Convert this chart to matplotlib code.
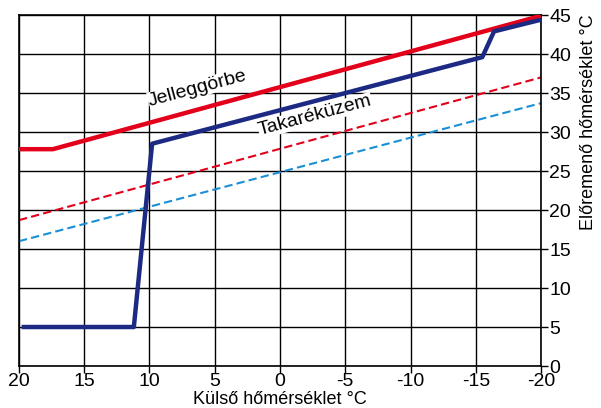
import matplotlib
matplotlib.use("Agg")
import matplotlib.pyplot as plt

plt.rcParams["font.family"] = ["Liberation Sans", "DejaVu Sans"]

# outdoor temperature (x) vs. flow temperature (y)
curve_x = [20, 17.4, -20]
curve_y = [27.8, 27.8, 44.9]

eco_x = [19.8, 11.2, 9.8, -15.5, -16.4, -20]
eco_y = [5.0, 5.0, 28.5, 39.6, 42.9, 44.4]

red_dot_x = [20, -20]
red_dot_y = [18.7, 37.0]

blue_dot_x = [20, -20]
blue_dot_y = [16.0, 33.7]

xticks = [20, 15, 10, 5, 0, -5, -10, -15, -20]
yticks = [0, 5, 10, 15, 20, 25, 30, 35, 40, 45]

fig = plt.figure(figsize=(6.01, 4.08), dpi=100)
ax = fig.add_axes([0.0316, 0.1029, 0.8686, 0.8603])

ax.plot(curve_x, curve_y, color="#e3001b", linewidth=3.2, solid_capstyle="butt", zorder=3)
ax.plot(eco_x, eco_y, color="#1c2a84", linewidth=3.2, solid_capstyle="butt", zorder=3)
ax.plot(red_dot_x, red_dot_y, color="#e3001b", linewidth=1.5, linestyle=(0, (4, 2)), zorder=2)
ax.plot(blue_dot_x, blue_dot_y, color="#1a8fd6", linewidth=1.5, linestyle=(0, (4, 2)), zorder=2)

ax.set_xlim(20, -20)
ax.set_ylim(0, 45)
ax.set_xticks(xticks)
ax.set_yticks(yticks)
ax.set_xticklabels([str(t) for t in xticks])
ax.yaxis.tick_right()
ax.tick_params(axis="both", labelsize=14, length=5, width=1, color="black", pad=1)
ax.tick_params(axis="x", pad=0)
ax.grid(True, color="black", linewidth=1)
for s in ax.spines.values():
    s.set_linewidth(1.2)

fig.text(0.466, 0.022, "Külső hőmérséklet °C", fontsize=13, ha="center", va="center")
fig.text(0.980, 0.70, "Előremenő hőmérséklet °C", fontsize=13, rotation=90,
         ha="center", va="center")

ax.text(6.3, 35.6, "Jelleggörbe", fontsize=14, rotation=15, ha="center", va="center",
        bbox=dict(facecolor="white", edgecolor="none", pad=0.3), zorder=4)
ax.text(-2.7, 32.1, "Takaréküzem", fontsize=14, rotation=15, ha="center", va="center",
        bbox=dict(facecolor="white", edgecolor="none", pad=0.3), zorder=4)

fig.savefig("out.png", dpi=100)
